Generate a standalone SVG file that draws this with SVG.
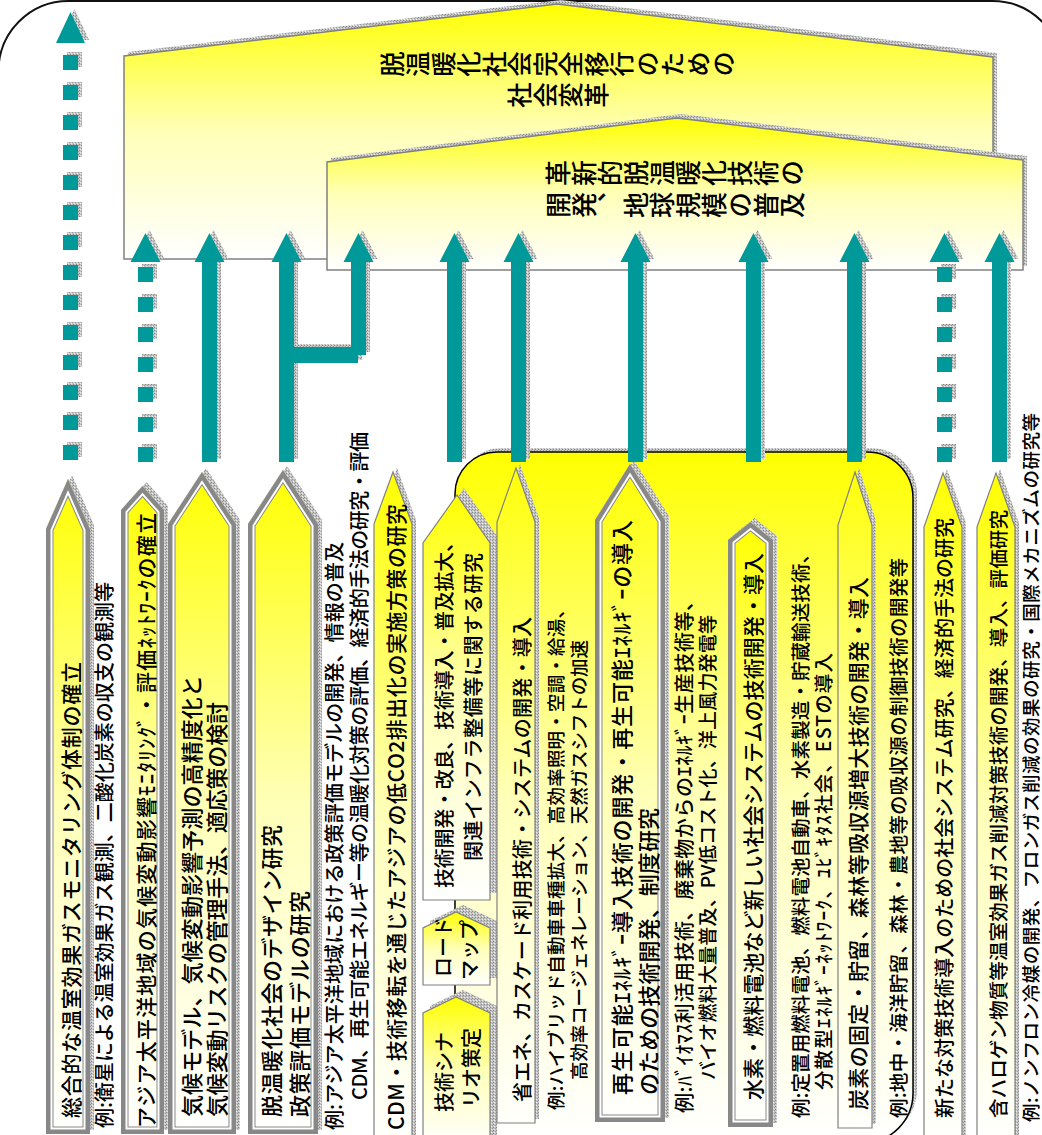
<svg xmlns="http://www.w3.org/2000/svg" width="1042" height="1135" viewBox="0 0 1042 1135">
<style>
.t{font-family:"Noto Sans CJK JP","Noto Sans CJK SC",sans-serif;font-weight:500;fill:#000;dominant-baseline:central}
.m{text-anchor:middle}
.tv{font-family:"Noto Sans CJK JP","Noto Sans CJK SC",sans-serif;font-weight:500;fill:#000;writing-mode:vertical-rl;text-anchor:middle}
.sh{fill:url(#sh)}
.teal{fill:#009999}
.sb{fill:url(#gY);stroke:#808080;stroke-width:1.2}
.sr{fill:url(#gR);stroke:#808080;stroke-width:1.2}
.b1{fill:none;stroke:#888;stroke-width:15}
.b2{fill:none;stroke:#fff;stroke-width:13}
.b3{fill:none;stroke:#888;stroke-width:9}
</style>
<defs>
<pattern id="sh" width="3" height="3" patternUnits="userSpaceOnUse"><rect width="3" height="3" fill="#c4c4c4"/><rect width="1" height="1" fill="#8a8a8a"/><rect x="2" y="1" width="1" height="1" fill="#9a9a9a"/><rect x="1" y="2" width="1" height="1" fill="#ececec"/></pattern>
<linearGradient id="gY" x1="0" y1="0" x2="0" y2="1"><stop offset="0" stop-color="#FFFF00"/><stop offset="0.5" stop-color="#FFFFB8"/><stop offset="1" stop-color="#FFFFFF"/></linearGradient>
<linearGradient id="gR" gradientUnits="userSpaceOnUse" x1="0" y1="452" x2="0" y2="1140"><stop offset="0" stop-color="#FFFF00"/><stop offset="0.5" stop-color="#FFFFB8"/><stop offset="1" stop-color="#FFFFFF"/></linearGradient>
<polygon id="pA" points="46,1134 46,529 68,479 90,529 90,1134"/>
<polygon id="pB" points="121,1134 121,510 142.5,486 164,510 164,1134"/>
<polygon id="pC" points="168,1134 168,524 202,472 236,524 236,1134"/>
<polygon id="pD" points="248,1134 248,524 283,470 318,524 318,1134"/>
<polygon id="pG" points="595,1122 595,520 630,464 665,520 665,1122"/>
<polygon id="pH" points="728,1127 728,540 750.5,522 773,540 773,1127"/>
<clipPath id="cA"><use href="#pA"/></clipPath>
<clipPath id="cB"><use href="#pB"/></clipPath>
<clipPath id="cC"><use href="#pC"/></clipPath>
<clipPath id="cD"><use href="#pD"/></clipPath>
<clipPath id="cG"><use href="#pG"/></clipPath>
<clipPath id="cH"><use href="#pH"/></clipPath>
<path id="aA" d="M56,43L70.5,12L85,43Z M63,55h15v15h-15z M63,85h15v15h-15z M63,115h15v15h-15z M63,145h15v15h-15z M63,175h15v15h-15z M63,205h15v15h-15z M63,235h15v15h-15z M63,265h15v15h-15z M63,295h15v15h-15z M63,325h15v15h-15z M63,355h15v15h-15z M63,385h15v15h-15z M63,415h15v15h-15z M63,445h15v15h-15z"/>
<path id="aB" d="M130.5,262L145.5,233L160.5,262Z M138,267h15v15h-15z M138,297h15v15h-15z M138,327h15v15h-15z M138,357h15v15h-15z M138,387h15v15h-15z M138,417h15v15h-15z M138,447h15v15h-15z"/>
<path id="aJ" d="M929.5,262L944.5,233L959.5,262Z M937,267h15v15h-15z M937,297h15v15h-15z M937,327h15v15h-15z M937,357h15v15h-15z M937,387h15v15h-15z M937,417h15v15h-15z M937,447h15v15h-15z"/>
<path id="aC" d="M202,462V262H194.5L209.5,233L224.5,262H217V462Z"/>
<path id="aD" d="M279,462V262H271.5L286.5,233L301.5,262H294V462Z"/>
<path id="aBr" d="M294,347H351V262H343.5L358.5,233L373.5,262H366V355H358V363H294Z"/>
<path id="aS" d="M447,462V262H439.5L454.5,233L469.5,262H462V462Z"/>
<path id="aF" d="M511,462V262H503.5L518.5,233L533.5,262H526V462Z"/>
<path id="aG" d="M628,462V262H620.5L635.5,233L650.5,262H643V462Z"/>
<path id="aH" d="M746,462V262H738.5L753.5,233L768.5,262H761V462Z"/>
<path id="aI" d="M847,462V262H839.5L854.5,233L869.5,262H862V462Z"/>
<path id="aK" d="M992,462V262H984.5L999.5,233L1014.5,262H1007V462Z"/>
</defs>

<rect x="-1.5" y="1" width="1064" height="1300" rx="70" ry="70" fill="#fff" stroke="#111" stroke-width="2"/>

<g id="n-society">
<polygon class="sh" transform="translate(4,-4)" points="124,259 124,56 557,4 993,57 993,259"/>
<polygon points="124,259 124,56 557,4 993,57 993,259" fill="url(#gY)" stroke="#808080" stroke-width="1.5"/>
<g transform="translate(558,0) rotate(-90)"><text class="tv" x="-64" y="0" font-size="25.5">脱温暖化社会完全移行のための</text><text class="tv" x="-95" y="0" font-size="25.5">社会変革</text></g>
</g>

<g id="n-tech">
<polygon class="sh" transform="translate(4,-4)" points="327,270 327,162 677,118 1023,160 1023,270"/>
<polygon points="327,270 327,162 677,118 1023,160 1023,270" fill="url(#gY)" stroke="#808080" stroke-width="1.5"/>
<g transform="translate(675,0) rotate(-90)"><text class="tv" x="-173" y="0" font-size="26">革新的脱温暖化技術の</text><text class="tv" x="-205" y="0" font-size="26">開発、地球規模の普及</text></g>
</g>

<g id="n-region">
<path class="sh" transform="translate(4,-4)" d="M455,1143V494A42,42 0 0 1 497,452H867A46,46 0 0 1 913,498V1093A50,50 0 0 1 863,1143Z"/>
<path d="M455,1143V494A42,42 0 0 1 497,452H867A46,46 0 0 1 913,498V1093A50,50 0 0 1 863,1143Z" fill="url(#gR)" stroke="#000" stroke-width="1.5"/>
</g>

<g id="n-A">
<use href="#pA" class="sh" transform="translate(4,-4)"/>
<use href="#pA" fill="url(#gY)"/>
<g clip-path="url(#cA)"><use href="#pA" class="b1"/><use href="#pA" class="b2"/><use href="#pA" class="b3"/></g>
<text class="t" transform="translate(70,1118) rotate(-90)" font-size="21" textLength="456">総合的な温室効果ガスモニタリング体制の確立</text>
</g>
<g id="ex-A">
<text class="t" transform="translate(103,1128) rotate(-90)" font-size="20" textLength="546">例:衛星による温室効果ガス観測、二酸化炭素の収支の観測等</text>
</g>

<g id="n-B">
<use href="#pB" class="sh" transform="translate(4,-4)"/>
<use href="#pB" fill="url(#gY)"/>
<g clip-path="url(#cB)"><use href="#pB" class="b1"/><use href="#pB" class="b2"/><use href="#pB" class="b3"/></g>
<text class="t" transform="translate(145,1128) rotate(-90)" font-size="21" textLength="615">アジア太平洋地域の気候変動影響ﾓﾆﾀﾘﾝｸﾞ・評価ﾈｯﾄﾜｰｸの確立</text>
</g>

<g id="n-C">
<use href="#pC" class="sh" transform="translate(4,-4)"/>
<use href="#pC" fill="url(#gY)"/>
<g clip-path="url(#cC)"><use href="#pC" class="b1"/><use href="#pC" class="b2"/><use href="#pC" class="b3"/></g>
<text class="t" transform="translate(190,1117) rotate(-90)" font-size="22" textLength="442">気候モデル、気候変動影響予測の高精度化と</text>
<text class="t" transform="translate(215,1117) rotate(-90)" font-size="22" textLength="415">気候変動リスクの管理手法、適応策の検討</text>
</g>

<g id="n-D">
<use href="#pD" class="sh" transform="translate(4,-4)"/>
<use href="#pD" fill="url(#gY)"/>
<g clip-path="url(#cD)"><use href="#pD" class="b1"/><use href="#pD" class="b2"/><use href="#pD" class="b3"/></g>
<text class="t" transform="translate(270,1117) rotate(-90)" font-size="22" textLength="292">脱温暖化社会のデザイン研究</text>
<text class="t" transform="translate(298,1117) rotate(-90)" font-size="22" textLength="226">政策評価モデルの研究</text>
</g>
<g id="ex-D">
<text class="t" transform="translate(333,1130) rotate(-90)" font-size="20" textLength="588">例:アジア太平洋地域における政策評価モデルの開発、情報の普及</text>
<text class="t" transform="translate(358,1100) rotate(-90)" font-size="20" textLength="668">CDM、再生可能エネルギー等の温暖化対策の評価、経済的手法の研究・評価</text>
</g>

<g id="n-E">
<polygon class="sh" transform="translate(4,-4)" points="374,1145 374,524 393,472 412,524 412,1145"/>
<polygon class="sb" points="374,1145 374,524 393,472 412,524 412,1145"/>
<text class="t" transform="translate(395,1130) rotate(-90)" font-size="21" textLength="626">CDM・技術移転を通じたアジアの低CO2排出化の実施方策の研究</text>
</g>

<g id="n-S1">
<polygon class="sh" transform="translate(7,-7)" points="423,900 423,543 457,495 490,543 490,900"/>
<polygon class="sb" points="423,900 423,543 457,495 490,543 490,900"/>
<text class="t m" transform="translate(443,710) rotate(-90)" font-size="20" textLength="356">技術開発・改良、技術導入・普及拡大、</text>
<text class="t m" transform="translate(472,707) rotate(-90)" font-size="20" textLength="308">関連インフラ整備等に関する研究</text>
</g>
<g id="n-S2">
<polygon class="sh" transform="translate(7,-7)" points="423,985 423,928 456,912 490,928 490,985"/>
<polygon class="sb" points="423,985 423,928 456,912 490,928 490,985"/>
<text class="t m" transform="translate(442,947) rotate(-90)" font-size="20">ロード</text>
<text class="t m" transform="translate(468,950) rotate(-90)" font-size="20">マップ</text>
</g>
<g id="n-S3">
<polygon class="sh" transform="translate(7,-7)" points="423,1145 423,1013 456,997 490,1013 490,1145"/>
<polygon class="sb" points="423,1145 423,1013 456,997 490,1013 490,1145"/>
<text class="t m" transform="translate(443,1072) rotate(-90)" font-size="20">技術シナ</text>
<text class="t m" transform="translate(470,1068) rotate(-90)" font-size="20">リオ策定</text>
</g>

<g id="n-F">
<polygon class="sh" transform="translate(4,-4)" points="497,1123 497,522 516,468 535,522 535,1123"/>
<polygon class="sr" points="497,1123 497,522 516,468 535,522 535,1123"/>
<text class="t" transform="translate(521,1102) rotate(-90)" font-size="20" textLength="485">省エネ、カスケード利用技術・システムの開発・導入</text>
</g>
<g id="ex-F">
<text class="t" transform="translate(555,1110) rotate(-90)" font-size="18.5" textLength="510">例:ハイブリッド自動車車種拡大、高効率照明・空調・給湯、</text>
<text class="t" transform="translate(578,1080) rotate(-90)" font-size="18.5" textLength="440">高効率コージェネレーション、天然ガスシフトの加速</text>
</g>

<g id="n-G">
<use href="#pG" class="sh" transform="translate(4,-4)"/>
<use href="#pG" fill="url(#gY)"/>
<g clip-path="url(#cG)"><use href="#pG" class="b1"/><use href="#pG" class="b2"/><use href="#pG" class="b3"/></g>
<text class="t" transform="translate(620,1095) rotate(-90)" font-size="22" textLength="575">再生可能ｴﾈﾙｷﾞｰ導入技術の開発・再生可能ｴﾈﾙｷﾞｰの導入</text>
<text class="t" transform="translate(647,1095) rotate(-90)" font-size="22" textLength="287">のための技術開発、制度研究</text>
</g>
<g id="ex-G">
<text class="t" transform="translate(683,1113) rotate(-90)" font-size="20" textLength="522">例:ﾊﾞｲｵﾏｽ利活用技術、廃棄物からのｴﾈﾙｷﾞｰ生産技術等、</text>
<text class="t" transform="translate(706,1080) rotate(-90)" font-size="19" textLength="465">バイオ燃料大量普及、PV低コスト化、洋上風力発電等</text>
</g>

<g id="n-H">
<use href="#pH" class="sh" transform="translate(4,-4)"/>
<use href="#pH" fill="url(#gY)"/>
<g clip-path="url(#cH)"><use href="#pH" class="b1"/><use href="#pH" class="b2"/><use href="#pH" class="b3"/></g>
<text class="t" transform="translate(752,1100) rotate(-90)" font-size="21" textLength="547">水素・燃料電池など新しい社会システムの技術開発・導入</text>
</g>
<g id="ex-H">
<text class="t" transform="translate(799,1118) rotate(-90)" font-size="19.5" textLength="574">例:定置用燃料電池、燃料電池自動車、水素製造・貯蔵輸送技術、</text>
<text class="t" transform="translate(822,1090) rotate(-90)" font-size="19.5" textLength="437">分散型ｴﾈﾙｷﾞｰﾈｯﾄﾜｰｸ、ﾕﾋﾞｷﾀｽ社会、ESTの導入</text>
</g>

<g id="n-I">
<polygon class="sh" transform="translate(4,-4)" points="838,1128 838,525 855,472 872,525 872,1128"/>
<polygon class="sr" points="838,1128 838,525 855,472 872,525 872,1128"/>
<text class="t" transform="translate(857,1110) rotate(-90)" font-size="21" textLength="533">炭素の固定・貯留、森林等吸収源増大技術の開発・導入</text>
</g>
<g id="ex-I">
<text class="t" transform="translate(897,1118) rotate(-90)" font-size="19.5" textLength="560">例:地中・海洋貯留、森林・農地等の吸収源の制御技術の開発等</text>
</g>

<g id="n-J">
<polygon class="sh" transform="translate(4,-4)" points="924,1145 924,527 943,473 962,527 962,1145"/>
<polygon class="sb" points="924,1145 924,527 943,473 962,527 962,1145"/>
<text class="t" transform="translate(943,1118) rotate(-90)" font-size="20" textLength="600">新たな対策技術導入のための社会システム研究、経済的手法の研究</text>
</g>

<g id="n-K">
<polygon class="sh" transform="translate(4,-4)" points="977,1145 977,527 996,473 1015,527 1015,1145"/>
<polygon class="sb" points="977,1145 977,527 996,473 1015,527 1015,1145"/>
<text class="t" transform="translate(997,1118) rotate(-90)" font-size="19.5" textLength="608">含ハロゲン物質等温室効果ガス削減対策技術の開発、導入、評価研究</text>
</g>
<g id="ex-K">
<text class="t" transform="translate(1030,1122) rotate(-90)" font-size="18.5" textLength="709">例:ノンフロン冷媒の開発、フロンガス削減の効果の研究・国際メカニズムの研究等</text>
</g>

<g id="connectors">
<g class="sh" transform="translate(4,-3)">
<use href="#aA"/><use href="#aB"/><use href="#aJ"/><use href="#aC"/><use href="#aD"/><use href="#aBr"/><use href="#aS"/><use href="#aF"/><use href="#aG"/><use href="#aH"/><use href="#aI"/><use href="#aK"/>
</g>
<g class="teal">
<use href="#aA"/><use href="#aB"/><use href="#aJ"/><use href="#aC"/><use href="#aD"/><use href="#aBr"/><use href="#aS"/><use href="#aF"/><use href="#aG"/><use href="#aH"/><use href="#aI"/><use href="#aK"/>
</g>
</g>
</svg>
